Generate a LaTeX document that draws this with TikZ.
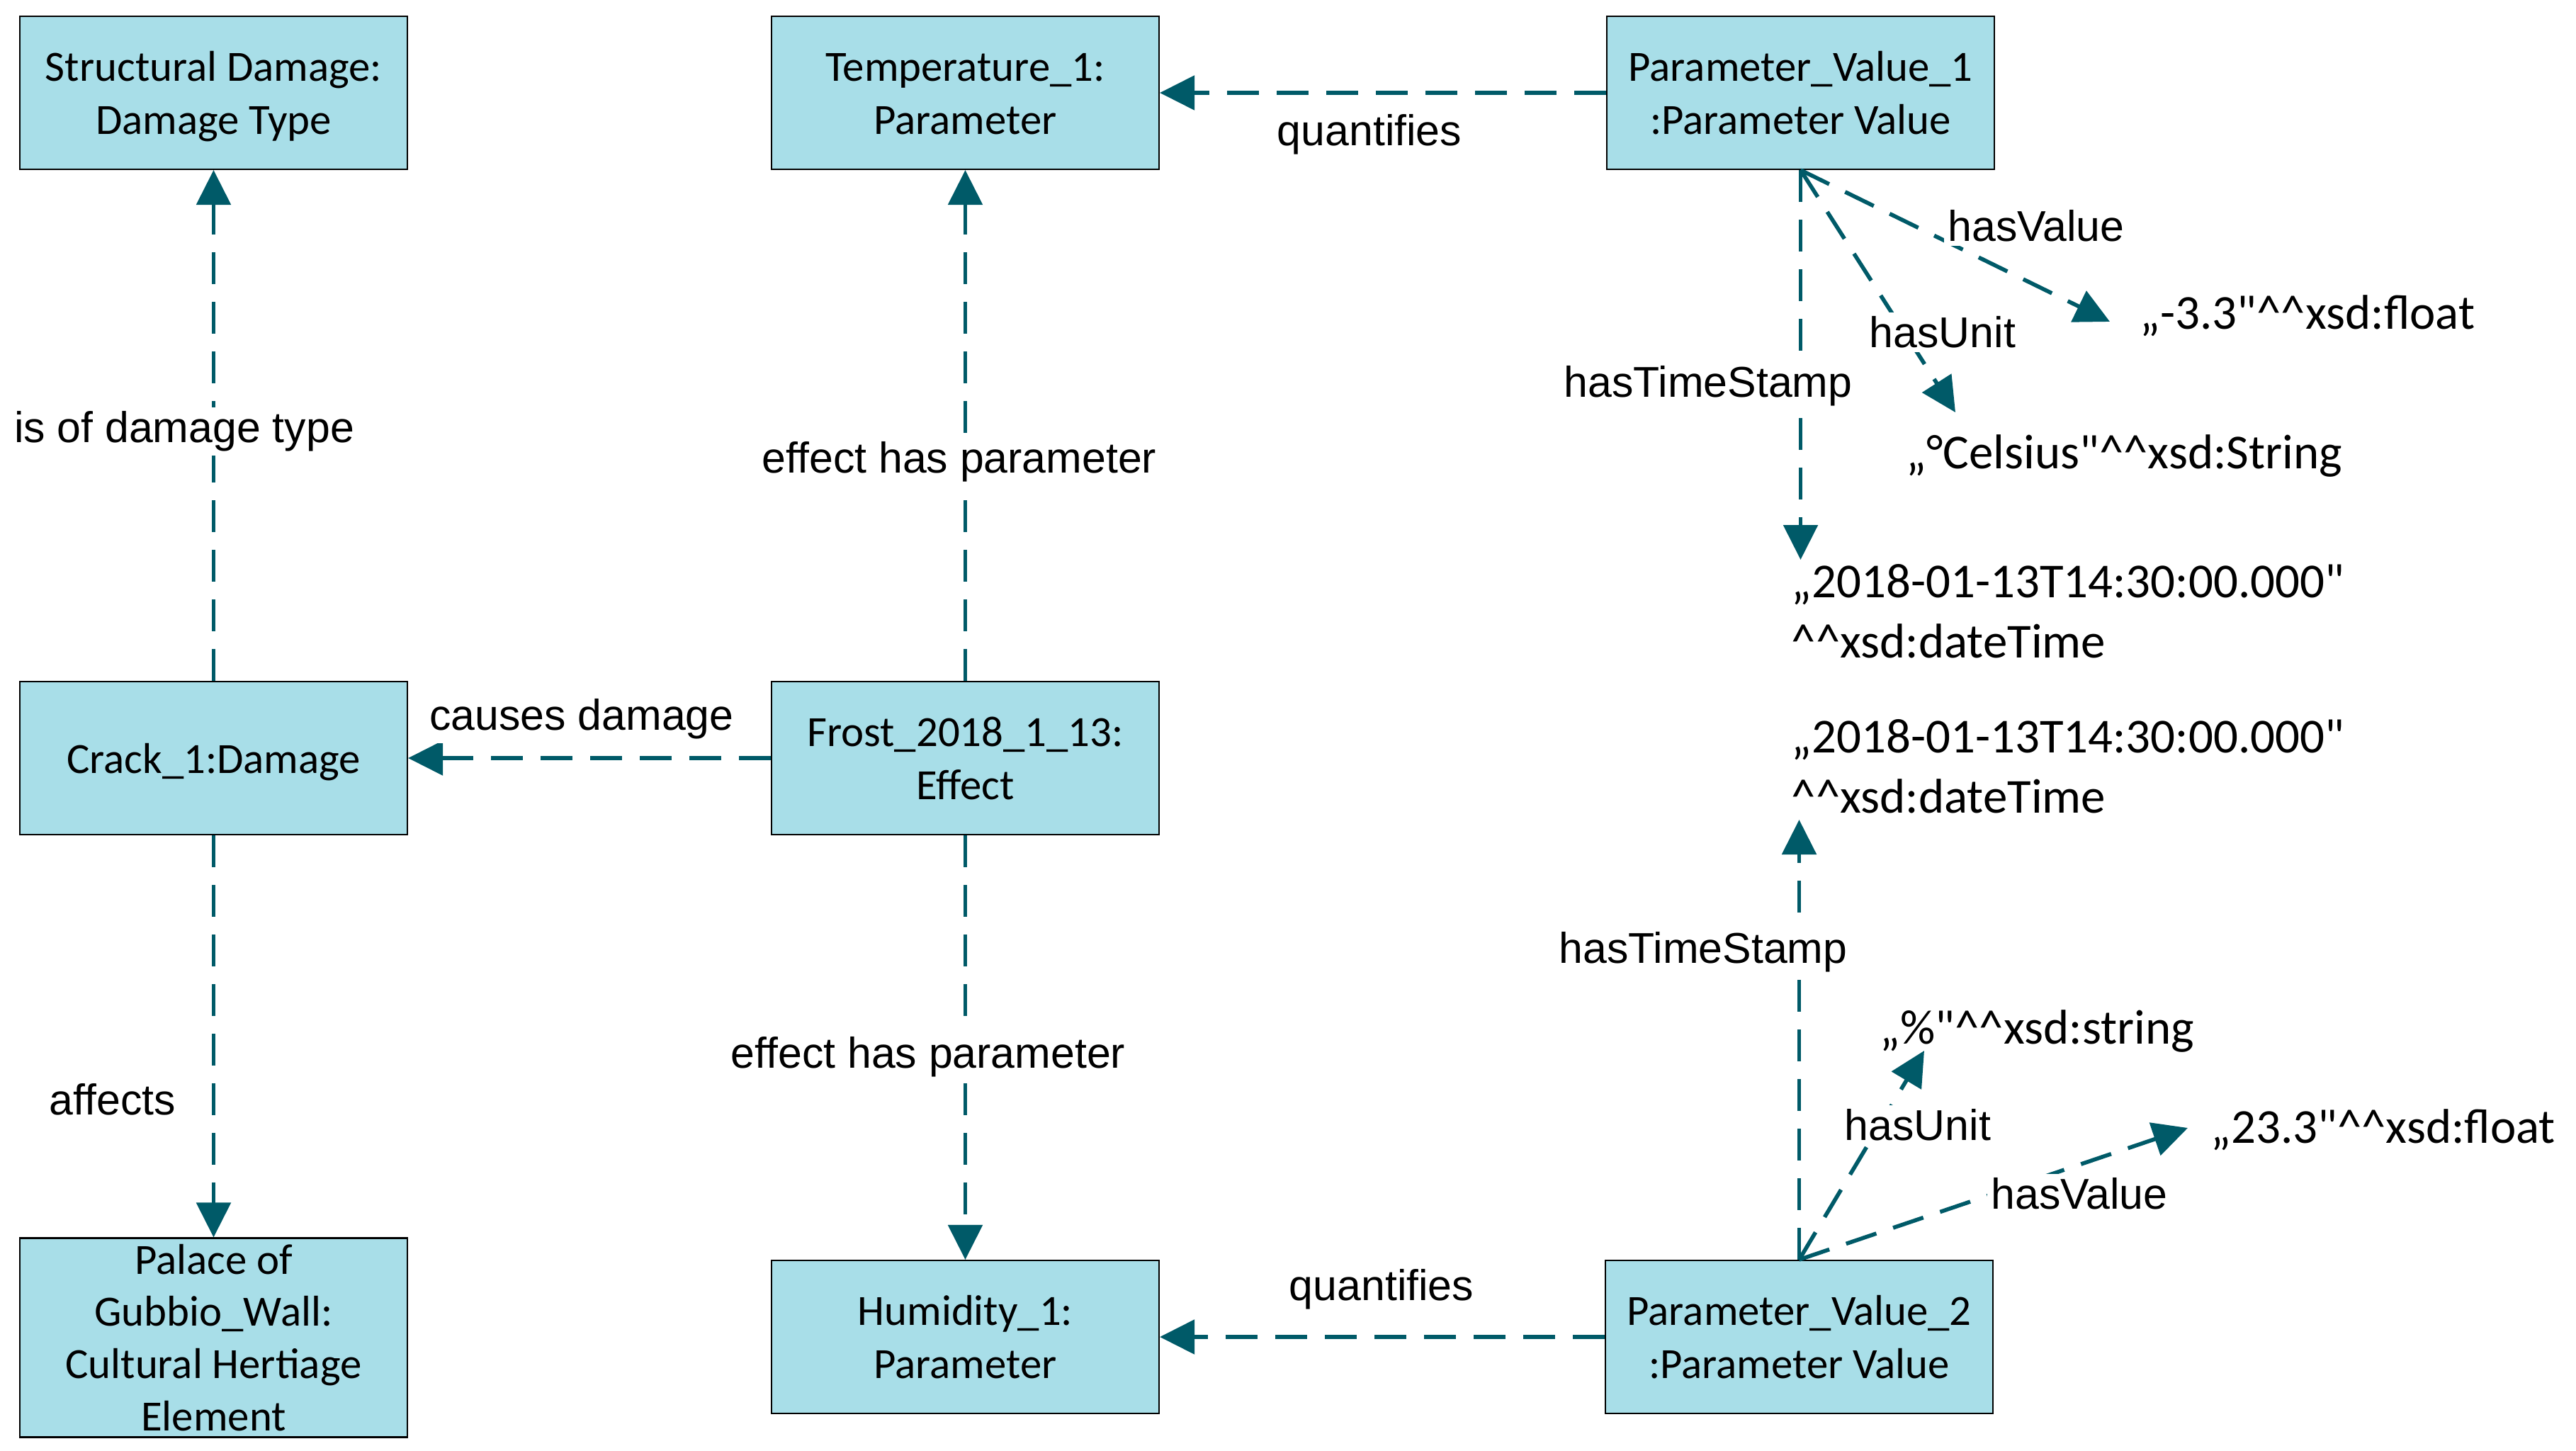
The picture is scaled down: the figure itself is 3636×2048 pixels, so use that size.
\documentclass[tikz,border=0pt]{standalone}
\usepackage{fontspec}
\setmainfont{Carlito}[Ligatures=TeXOff]
\newfontfamily\labfont{Liberation Sans}
\usetikzlibrary{arrows.meta}
\definecolor{lncol}{RGB}{0,90,104}
\definecolor{boxfill}{RGB}{168,222,232}
\newcommand{\cc}{\textasciicircum\textasciicircum}
\newcommand{\tstr}{\rule{0pt}{0.95em}}
\newcommand{\bstr}{\rule[-0.25em]{0pt}{0pt}}
\begin{document}
\begin{tikzpicture}[x=0.1mm,y=-0.1mm,
 box/.style={draw=black, line width=0.6pt, fill=boxfill, minimum width=54.7mm, minimum height=21.6mm, align=center, inner sep=0pt, font=\fontsize{17.3}{21.3}\selectfont},
 rel/.style={draw=lncol, line width=1.6pt, dash pattern=on 4.5mm off 2.5mm, -{Triangle[length=4.9mm,width=4.8mm]}},
 lab/.style={fill=white, inner sep=1.5pt, font=\labfont\fontsize{17.3}{20}\selectfont},
 val/.style={anchor=west, align=left, inner sep=0pt, font=\fontsize{19.6}{24.2}\selectfont}]
\useasboundingbox[fill=white] (0,0) rectangle (3636,2048);

% boxes
\node[box] (sd) at (301.5,131) {\tstr Structural Damage:\\Damage Type\bstr};
\node[box] (temp) at (1362.5,131) {\tstr Temperature\_1:\\Parameter\bstr};
\node[box] (pv1) at (2541.5,131) {\tstr Parameter\_Value\_1\\:Parameter Value\bstr};
\node[box] (crack) at (301.5,1070) {\tstr Crack\_1:Damage\bstr};
\node[box] (frost) at (1362.5,1070) {\tstr Frost\_2018\_1\_13:\\Effect\bstr};
\node[box, minimum height=28.1mm, font=\fontsize{17.3}{21}\selectfont] (palace) at (301.5,1888) {Palace of\\Gubbio\_Wall:\\Cultural Hertiage\\Element};
\node[box] (hum) at (1362.5,1887) {\tstr Humidity\_1:\\Parameter\bstr};
\node[box] (pv2) at (2539.5,1887) {\tstr Parameter\_Value\_2\\:Parameter Value\bstr};

% value texts
\node[val] (v1val) at (3020,446) {„-3.3"\cc xsd:float};
\node[val] (v1unit) at (2690,644) {„°Celsius"\cc xsd:String};
\node[val] (v1time) at (2528,863) {„2018-01-13T14:30:00.000"\\\cc xsd:dateTime};
\node[val] (v2time) at (2528,1082) {„2018-01-13T14:30:00.000"\\\cc xsd:dateTime};
\node[val] (v2unit) at (2653,1455) {„\%"\cc xsd:string};
\node[val] (v2val) at (3120,1595) {„23.3"\cc xsd:float};

% arrow tips at literals
\coordinate (t1v) at (2978,454);
\coordinate (t1u) at (2760,582);
\coordinate (t1t) at (2541.5,790);
\coordinate (t2t) at (2539.5,1157);
\coordinate (t2u) at (2716,1483);
\coordinate (t2v) at (3088,1592);

% connectors
\draw[rel] (crack) -- (sd);
\draw[rel] (frost) -- (temp);
\draw[rel] (pv1) -- (temp);
\draw[rel] (frost) -- (crack);
\draw[rel] (crack) -- (palace);
\draw[rel] (frost) -- (hum);
\draw[rel] (pv2) -- (hum);
\draw[rel] (pv1.south) -- (t1v);
\draw[rel] (pv1.south) -- (t1u);
\draw[rel] (pv1.south) -- (t1t);
\draw[rel] (pv2.north) -- (t2t);
\draw[rel] (pv2.north) -- (t2u);
\draw[rel] (pv2.north) -- (t2v);

% labels
\node[lab] (l1) at (260,609) {is of damage type};
\node[lab] (l2) at (1354,652) {effect has parameter};
\node[lab] (l3) at (1933,190) {quantifies};
\node[lab] (l4) at (821,1015) {causes damage};
\node[lab] (l5) at (159,1552) {affects};
\node[lab] (l6) at (1310,1492) {effect has parameter};
\node[lab] (l7) at (1950,1820) {quantifies};
\node[lab] (l8) at (2874,319) {hasValue};
\node[lab] (l9) at (2742,469) {hasUnit};
\node[lab] (l10) at (2411,545) {hasTimeStamp};
\node[lab] (l11) at (2404,1344) {hasTimeStamp};
\node[lab] (l12) at (2707,1588) {hasUnit};
\node[lab] (l13) at (2935,1685) {hasValue};
\end{tikzpicture}
\end{document}
